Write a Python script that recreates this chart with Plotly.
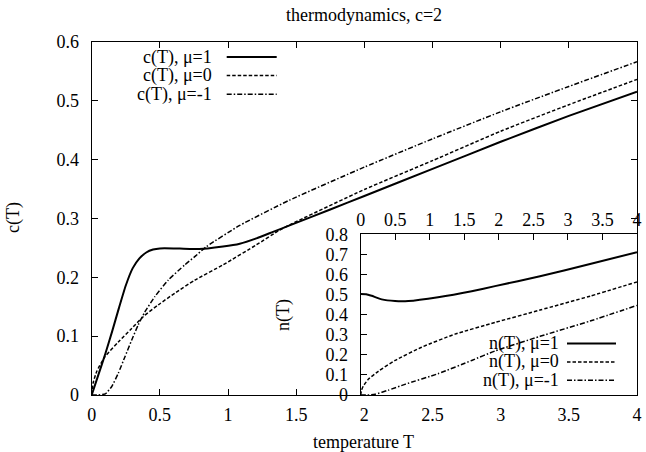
import plotly.graph_objects as go

# ---------------- data ----------------
T_c_mu1 = [0, 0.05, 0.1, 0.15, 0.2, 0.25, 0.3, 0.35, 0.4, 0.45, 0.5, 0.6, 0.72, 0.85,
           0.963, 1.086, 1.208, 1.33, 1.452, 1.75, 2.0, 2.5, 3.0, 3.5, 4.0]
c_mu1 = [0, 0.035, 0.07, 0.108, 0.148, 0.186, 0.215, 0.232, 0.242, 0.247, 0.249, 0.249, 0.248, 0.249,
         0.252, 0.257, 0.266, 0.277, 0.288, 0.315, 0.338, 0.384, 0.430, 0.474, 0.515]

T_c_mu0 = [0, 0.01, 0.037, 0.097, 0.195, 0.293, 0.378, 0.488, 0.61, 0.756, 0.963, 1.208, 1.378,
           1.452, 2.0, 2.5, 3.0, 3.5, 4.0]
c_mu0 = [0, 0.02, 0.040, 0.065, 0.090, 0.113, 0.133, 0.153, 0.173, 0.195, 0.221, 0.255, 0.28,
         0.289, 0.349, 0.398, 0.448, 0.493, 0.536]

T_c_mum1 = [0, 0.05, 0.1, 0.146, 0.195, 0.244, 0.293, 0.341, 0.39, 0.463, 0.561, 0.683, 0.756,
            0.842, 1.086, 1.452, 2.0, 2.5, 3.0, 3.5, 4.0]
c_mum1 = [0, 0.0, 0.002, 0.014, 0.037, 0.065, 0.093, 0.119, 0.141, 0.167, 0.195, 0.221, 0.235,
          0.252, 0.288, 0.331, 0.387, 0.435, 0.481, 0.524, 0.566]

T_n_mu1 = [0, 0.08, 0.159, 0.304, 0.497, 0.69, 1.12, 1.607, 1.944, 2.596, 3.32, 4.0]
n_mu1 = [0.503, 0.502, 0.494, 0.476, 0.468, 0.468, 0.487, 0.517, 0.542, 0.591, 0.652, 0.711]

T_n_mu0 = [0, 0.01, 0.038, 0.11, 0.255, 0.497, 0.883, 1.365, 1.944, 2.596, 3.32, 4.0]
n_mu0 = [0, 0.022, 0.045, 0.078, 0.118, 0.172, 0.238, 0.303, 0.361, 0.423, 0.492, 0.563]

T_n_mum1 = [0, 0.1, 0.21, 0.40, 0.64, 1.12, 1.607, 1.944, 2.596, 3.32, 4.0]
n_mum1 = [0, 0.0, 0.004, 0.024, 0.053, 0.106, 0.172, 0.219, 0.292, 0.368, 0.446]

x_ticks = [0, 0.5, 1, 1.5, 2, 2.5, 3, 3.5, 4]
x_ticktext = ["0", "0.5", "1", "1.5", "2", "2.5", "3", "3.5", "4"]
c_ticks = [0, 0.1, 0.2, 0.3, 0.4, 0.5, 0.6]
c_ticktext = ["0", "0.1", "0.2", "0.3", "0.4", "0.5", "0.6"]
n_ticks = [0, 0.1, 0.2, 0.3, 0.4, 0.5, 0.6, 0.7, 0.8]
n_ticktext = ["0", "0.1", "0.2", "0.3", "0.4", "0.5", "0.6", "0.7", "0.8"]

c_names = ["c(T), μ=1", "c(T), μ=0", "c(T), μ=-1"]
n_names = ["n(T), μ=1", "n(T), μ=0", "n(T), μ=-1"]
title_text = "thermodynamics, c=2"
xlabel = "temperature T"
ylabel_main = "c(T)"
ylabel_inset = "n(T)"

# ---------------- styling ----------------
W, H = 646, 452
FONT = "Liberation Serif, Times New Roman, serif"
FS = 18
SOLID = dict(color="black", width=2, dash="solid")
DASHED = dict(color="black", width=1.5, dash="3.5px,2px")
DASHDOT = dict(color="black", width=1.5, dash="5px,2px,1.5px,2px")
styles = [SOLID, DASHED, DASHDOT]


def px(X):
    return X / W


def py(Y):
    return 1 - Y / H


# plot area pixels
ML, MR, MT, MB = 91.7, 637.0, 41.7, 395.0
IL, IT = 360.7, 234.3

fig = go.Figure()

for (tx, ty), st, nm in zip([(T_c_mu1, c_mu1), (T_c_mu0, c_mu0), (T_c_mum1, c_mum1)], styles, c_names):
    fig.add_trace(go.Scatter(x=tx, y=ty, mode="lines", line=dict(**st, shape="spline", smoothing=0.5),
                             name=nm, showlegend=False, xaxis="x", yaxis="y", cliponaxis=True,
                             hoverinfo="skip"))

for (tx, ty), st, nm in zip([(T_n_mu1, n_mu1), (T_n_mu0, n_mu0), (T_n_mum1, n_mum1)], styles, n_names):
    fig.add_trace(go.Scatter(x=tx, y=ty, mode="lines", line=dict(**st, shape="spline", smoothing=0.5),
                             name=nm, showlegend=False, xaxis="x2", yaxis="y2", cliponaxis=True,
                             hoverinfo="skip"))

axis_common = dict(showgrid=False, zeroline=False, showline=True, linecolor="black", linewidth=1,
                   ticks="inside", ticklen=6, tickwidth=1, tickcolor="black", automargin=False,
                   tickfont=dict(family=FONT, size=FS, color="black"))

fig.update_layout(
    width=W, height=H, autosize=False,
    margin=dict(l=0, r=0, t=0, b=0, pad=0),
    paper_bgcolor="white", plot_bgcolor="white",
    showlegend=False,
    xaxis=dict(domain=[px(ML), px(MR)], range=[0, 4], tickmode="array", tickvals=x_ticks,
               ticktext=x_ticktext, mirror="allticks", anchor="y", ticklabelstandoff=3, **axis_common),
    yaxis=dict(domain=[py(MB), py(MT)], range=[0, 0.6], tickmode="array", tickvals=c_ticks,
               ticktext=c_ticktext, mirror="allticks", anchor="x", ticklabelstandoff=8, **axis_common),
    xaxis2=dict(domain=[px(IL), px(MR)], range=[0, 4], tickmode="array", tickvals=x_ticks,
                ticktext=x_ticktext, side="top", mirror=True, anchor="y2", ticklabelstandoff=0,
                **axis_common),
    yaxis2=dict(domain=[py(MB), py(IT)], range=[0, 0.8], tickmode="array", tickvals=n_ticks,
                ticktext=n_ticktext, mirror=True, anchor="x2", ticklabelstandoff=8, **axis_common),
)

annotations = []
annotations.append(dict(text=title_text, x=px(364), y=py(15), xref="paper", yref="paper",
                        xanchor="center", yanchor="middle", showarrow=False,
                        font=dict(family=FONT, size=FS, color="black")))
annotations.append(dict(text=xlabel, x=px(364), y=py(442), xref="paper", yref="paper",
                        xanchor="center", yanchor="middle", showarrow=False,
                        font=dict(family=FONT, size=FS, color="black")))
annotations.append(dict(text=ylabel_main, x=px(13), y=py(218), xref="paper", yref="paper",
                        xanchor="center", yanchor="middle", showarrow=False, textangle=-90,
                        font=dict(family=FONT, size=FS, color="black")))
annotations.append(dict(text=ylabel_inset, x=px(283), y=py(315), xref="paper", yref="paper",
                        xanchor="center", yanchor="middle", showarrow=False, textangle=-90,
                        font=dict(family=FONT, size=FS, color="black")))

shapes = []
# key for main plot
for i, (nm, st) in enumerate(zip(c_names, styles)):
    Y = 57 + i * 18.6
    annotations.append(dict(text=nm, x=px(214), y=py(Y), xref="paper", yref="paper",
                            xanchor="right", yanchor="middle", showarrow=False,
                            font=dict(family=FONT, size=FS, color="black")))
    shapes.append(dict(type="line", xref="paper", yref="paper", x0=px(226.7), x1=px(276.7),
                       y0=py(Y), y1=py(Y), line=st))
# key for inset
for i, (nm, st) in enumerate(zip(n_names, styles)):
    Y = 343.5 + i * 18.4
    annotations.append(dict(text=nm, x=px(561), y=py(Y), xref="paper", yref="paper",
                            xanchor="right", yanchor="middle", showarrow=False,
                            font=dict(family=FONT, size=FS, color="black")))
    shapes.append(dict(type="line", xref="paper", yref="paper", x0=px(567), x1=px(616),
                       y0=py(Y), y1=py(Y), line=st))

fig.update_layout(annotations=annotations, shapes=shapes)
fig.write_html("out.html", config={"displayModeBar": False, "staticPlot": True},
               post_script="document.body.style.margin='0';document.body.style.overflow='hidden';")
